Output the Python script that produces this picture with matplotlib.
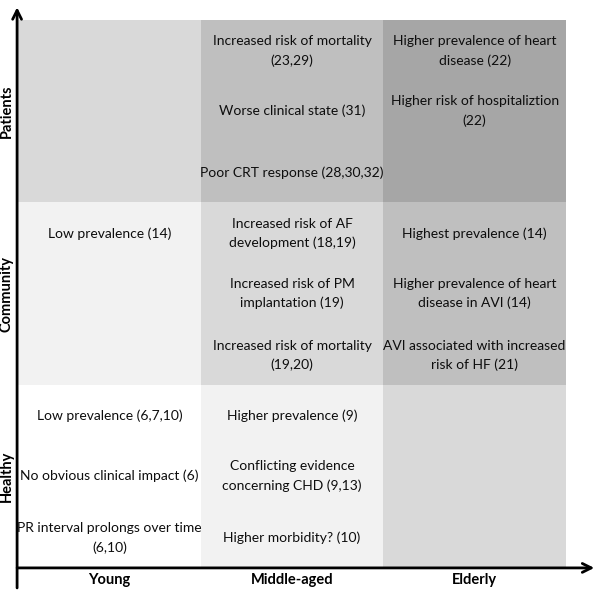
import matplotlib
matplotlib.use("Agg")
import matplotlib.pyplot as plt
from matplotlib.patches import Rectangle

# categories
age_groups = ["Young", "Middle-aged", "Elderly"]
populations = ["Healthy", "Community", "Patients"]  # bottom to top

# grey level of each cell, rows follow populations, columns follow age_groups
cell_shades = [
    ["#ffffff", "#f2f2f2", "#d9d9d9"],  # Healthy
    ["#f2f2f2", "#d9d9d9", "#bfbfbf"],  # Community
    ["#d9d9d9", "#bfbfbf", "#a6a6a6"],  # Patients
]

# findings in each cell (three slots per cell, top to bottom)
healthy_texts = [
    ["Low prevalence (6,7,10)", "No obvious clinical impact (6)",
     "PR interval prolongs over time\n(6,10)"],
    ["Higher prevalence (9)", "Conflicting evidence\nconcerning CHD (9,13)",
     "Higher morbidity? (10)"],
    [],
]
community_texts = [
    ["Low prevalence (14)"],
    ["Increased risk of AF\ndevelopment (18,19)", "Increased risk of PM\nimplantation (19)",
     "Increased risk of mortality\n(19,20)"],
    ["Highest prevalence (14)", "Higher prevalence of heart\ndisease in AVI (14)",
     "AVI associated with increased\nrisk of HF (21)"],
]
patients_texts = [
    [],
    ["Increased risk of mortality\n(23,29)", "Worse clinical state (31)",
     "Poor CRT response (28,30,32)"],
    ["Higher prevalence of heart\ndisease (22)", "Higher risk of hospitaliztion\n(22)"],
]
cell_texts = [healthy_texts, community_texts, patients_texts]

plt.rcParams['font.family'] = ['Lato', 'DejaVu Sans']

fig = plt.figure(figsize=(6, 5.9), dpi=100)
ax = fig.add_axes([18 / 600, 23 / 590, 548 / 600, 547 / 590])
ax.set_xlim(0, len(age_groups))
ax.set_ylim(0, len(populations))
ax.axis("off")

slots = [0.83, 0.5, 0.16]  # vertical position of the text slots inside a cell

for r, pop in enumerate(populations):
    for c, age in enumerate(age_groups):
        ax.add_patch(Rectangle((c, r), 1, 1, facecolor=cell_shades[r][c], edgecolor="none"))
        for k, txt in enumerate(cell_texts[r][c]):
            ax.text(c + 0.5, r + slots[k], txt, ha="center", va="center",
                    fontsize=10, color="#0d0d0d", linespacing=1.65)

# axis arrows
arrow = dict(arrowstyle="->", lw=2, color="black", mutation_scale=16)
ax.annotate("", xy=(-0.005, 3.085), xytext=(-0.005, -0.13), arrowprops=arrow,
            annotation_clip=False)
ax.annotate("", xy=(3.17, -0.005), xytext=(-0.02, -0.005), arrowprops=arrow,
            annotation_clip=False)

# axis labels
for c, age in enumerate(age_groups):
    ax.text(c + 0.5, -0.07, age, ha="center", va="center", fontsize=10.5,
            fontweight="bold")
for r, pop in enumerate(populations):
    ax.text(-0.062, r + 0.5, pop, ha="center", va="center", fontsize=10.5,
            fontweight="bold", rotation=90)

fig.savefig("out.png", dpi=100)
